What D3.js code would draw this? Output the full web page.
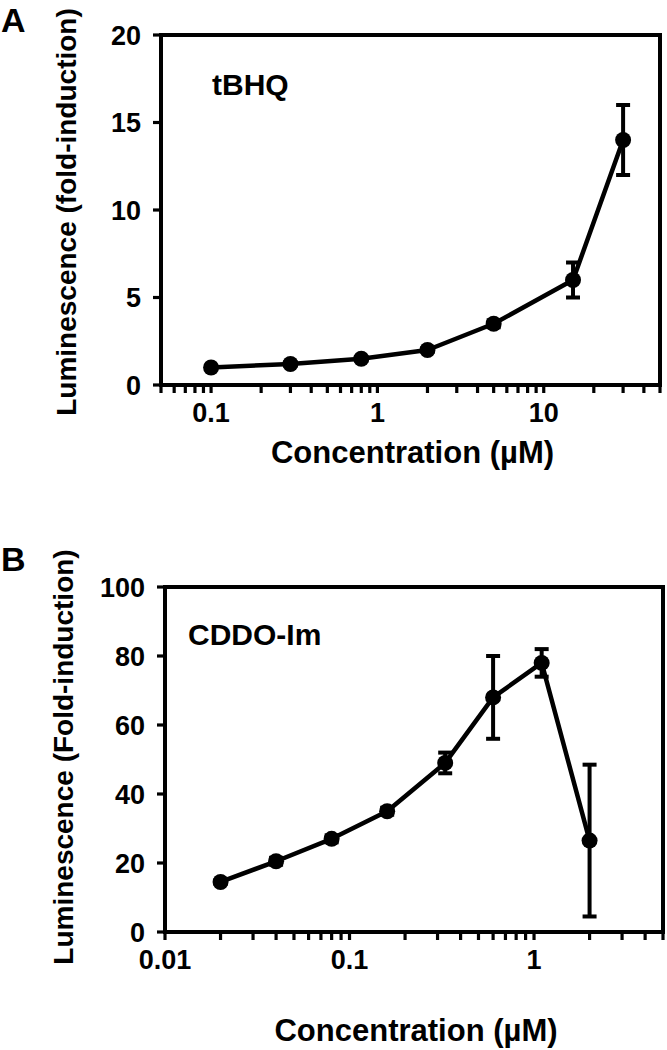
<!DOCTYPE html>
<html>
<head>
<meta charset="utf-8">
<script src="https://cdn.jsdelivr.net/npm/d3@7"></script>
<style>
  html, body { margin: 0; padding: 0; background: #fff; }
  svg { display: block; }
  text { font-family: "Liberation Sans", Arial, sans-serif; font-weight: bold; fill: #000; }
</style>
</head>
<body>
<svg id="chart" width="667" height="1050"></svg>
<script>
// ---- Data: panel A (tBHQ) ----
const concA = [0.1, 0.3, 0.8, 2, 5, 15, 30];
const valA  = [1.0, 1.2, 1.5, 2.0, 3.5, 6.0, 14.0];
const errA  = [0.05, 0.1, 0.1, 0.1, 0.2, 1.0, 2.0];
const yTicksA = [0, 5, 10, 15, 20];
const xLabelsA = [0.1, 1, 10];

// ---- Data: panel B (CDDO-Im) ----
const concB = [0.02, 0.04, 0.08, 0.16, 0.33, 0.6, 1.1, 2.0];
const valB  = [14.5, 20.5, 27.0, 35.0, 49.0, 68.0, 78.0, 26.5];
const errB  = [0.5, 1.0, 1.0, 1.0, 3.0, 12.0, 4.0, 22.0];
const yTicksB = [0, 20, 40, 60, 80, 100];
const xLabelsB = [0.01, 0.1, 1];

const svg = d3.select("#chart");

function panel(cfg) {
  const g = svg.append("g");
  const x = d3.scaleLog().domain(cfg.xDomain).range(cfg.xRange);
  const y = d3.scaleLinear().domain(cfg.yDomain).range(cfg.yRange);
  const [x0, x1] = cfg.xRange;
  const [yb, yt] = cfg.yRange;

  // frame
  g.append("rect")
    .attr("x", x0).attr("y", yt)
    .attr("width", x1 - x0).attr("height", yb - yt)
    .attr("fill", "none").attr("stroke", "#000").attr("stroke-width", 4);

  // x ticks (log major + minor)
  const xt = x.ticks();
  g.selectAll(".xt").data(xt).enter().append("line")
    .attr("x1", d => x(d)).attr("x2", d => x(d))
    .attr("y1", yb).attr("y2", yb + 8)
    .attr("stroke", "#000").attr("stroke-width", 3.2);

  // x labels
  g.selectAll(".xl").data(cfg.xLabels).enter().append("text")
    .attr("x", d => x(d)).attr("y", yb + 37)
    .attr("text-anchor", "middle").attr("font-size", 27)
    .text(d => String(d));

  // y ticks
  g.selectAll(".yt").data(cfg.yTicks).enter().append("line")
    .attr("x1", x0 - 8).attr("x2", x0)
    .attr("y1", d => y(d)).attr("y2", d => y(d))
    .attr("stroke", "#000").attr("stroke-width", 3.2);
  g.selectAll(".yl").data(cfg.yTicks).enter().append("text")
    .attr("x", x0 - 20).attr("y", d => y(d) + 9.5)
    .attr("text-anchor", "end").attr("font-size", 27)
    .text(d => String(d));

  // axis titles
  g.append("text")
    .attr("transform", `translate(${cfg.yTitleX},${cfg.yTitleY}) rotate(-90)`)
    .attr("text-anchor", "middle").attr("font-size", 28)
    .text(cfg.yTitle);
  g.append("text")
    .attr("x", (x0 + x1) / 2 + 2).attr("y", cfg.xTitleY)
    .attr("text-anchor", "middle").attr("font-size", 31)
    .text("Concentration (\u00B5M)");

  // panel letter & compound label
  g.append("text").attr("x", 1).attr("y", cfg.letterY)
    .attr("font-size", 34).text(cfg.letter);
  g.append("text").attr("x", cfg.nameX).attr("y", cfg.nameY)
    .attr("font-size", 30).text(cfg.name);

  // data
  const pts = cfg.conc.map((c, i) => ({ c, v: cfg.val[i], e: cfg.err[i] }));
  const line = d3.line().x(d => x(d.c)).y(d => y(d.v));
  g.append("path").datum(pts)
    .attr("d", line).attr("fill", "none")
    .attr("stroke", "#000").attr("stroke-width", 4.5).attr("stroke-linejoin", "round");

  const eb = g.selectAll(".eb").data(pts).enter().append("g");
  eb.append("line")
    .attr("x1", d => x(d.c)).attr("x2", d => x(d.c))
    .attr("y1", d => y(d.v - d.e)).attr("y2", d => y(d.v + d.e))
    .attr("stroke", "#000").attr("stroke-width", 4);
  eb.append("line")
    .attr("x1", d => x(d.c) - 7).attr("x2", d => x(d.c) + 7)
    .attr("y1", d => y(d.v + d.e)).attr("y2", d => y(d.v + d.e))
    .attr("stroke", "#000").attr("stroke-width", 4);
  eb.append("line")
    .attr("x1", d => x(d.c) - 7).attr("x2", d => x(d.c) + 7)
    .attr("y1", d => y(d.v - d.e)).attr("y2", d => y(d.v - d.e))
    .attr("stroke", "#000").attr("stroke-width", 4);

  g.selectAll(".pt").data(pts).enter().append("circle")
    .attr("cx", d => x(d.c)).attr("cy", d => y(d.v))
    .attr("r", 8).attr("fill", "#000");
}

panel({
  xDomain: [0.05, 50], xRange: [161, 660],
  yDomain: [0, 20], yRange: [385, 35],
  yTicks: yTicksA, xLabels: xLabelsA,
  conc: concA, val: valA, err: errA,
  yTitle: "Luminescence (fold-induction)", yTitleX: 76, yTitleY: 212,
  xTitleY: 463,
  letter: "A", letterY: 32,
  name: "tBHQ", nameX: 212, nameY: 95
});

panel({
  xDomain: [0.01, 5], xRange: [165, 663],
  yDomain: [0, 100], yRange: [932, 587],
  yTicks: yTicksB, xLabels: xLabelsB,
  conc: concB, val: valB, err: errB,
  yTitle: "Luminescence (Fold-induction)", yTitleX: 73, yTitleY: 757,
  xTitleY: 1041,
  letter: "B", letterY: 571,
  name: "CDDO-Im", nameX: 188, nameY: 645
});
</script>
</body>
</html>
